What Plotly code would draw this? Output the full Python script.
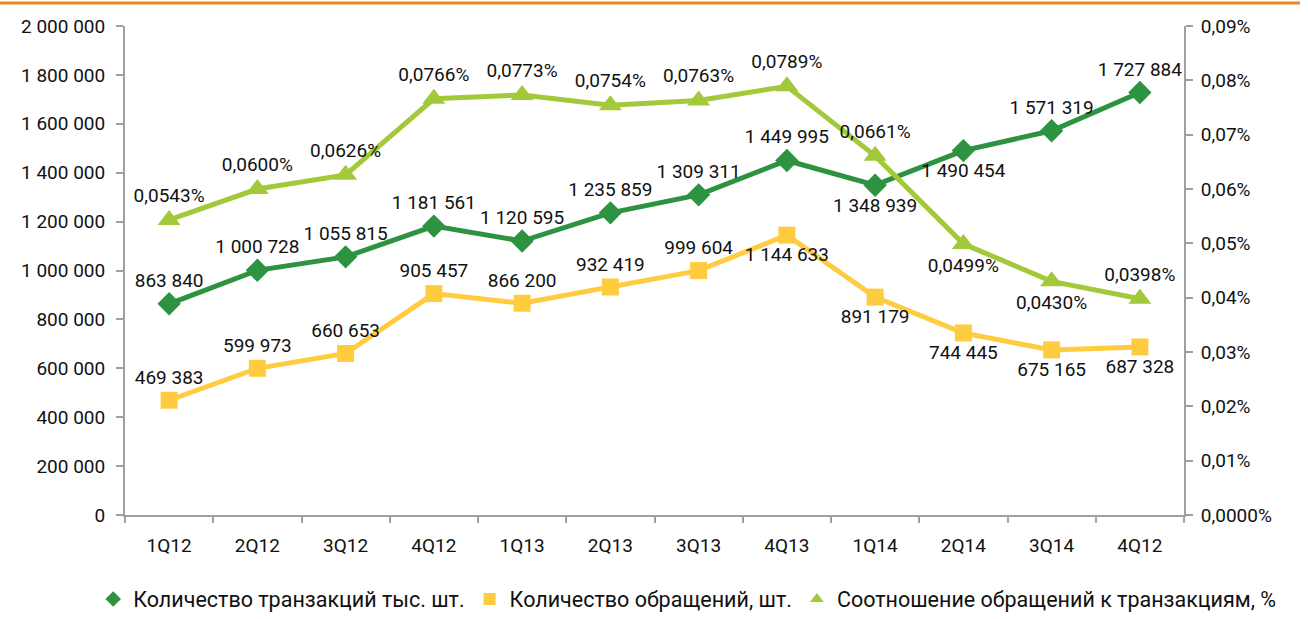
import plotly.graph_objects as go

quarters = ["1Q12", "2Q12", "3Q12", "4Q12", "1Q13", "2Q13", "3Q13", "4Q13", "1Q14", "2Q14", "3Q14", "4Q12"]
transactions = [863840, 1000728, 1055815, 1181561, 1120595, 1235859, 1309311, 1449995, 1348939, 1490454, 1571319, 1727884]
requests = [469383, 599973, 660653, 905457, 866200, 932419, 999604, 1144633, 891179, 744445, 675165, 687328]
ratio_pct = [0.0543, 0.0600, 0.0626, 0.0766, 0.0773, 0.0754, 0.0763, 0.0789, 0.0661, 0.0499, 0.0430, 0.0398]

left_ticks = [0, 200000, 400000, 600000, 800000, 1000000, 1200000, 1400000, 1600000, 1800000, 2000000]
right_ticks = [0, 0.01, 0.02, 0.03, 0.04, 0.05, 0.06, 0.07, 0.08, 0.09]
right_ticktext = ["0,0000%", "0,01%", "0,02%", "0,03%", "0,04%", "0,05%", "0,06%", "0,07%", "0,08%", "0,09%"]

names = ["Количество транзакций тыс. шт.", "Количество обращений, шт.", "Соотношение обращений к транзакциям, %"]
C_DARK = "#2E9340"
C_YEL = "#FFCC40"
C_LIGHT = "#A2C93A"
AXC = "#a0a0a0"

xpos = list(range(len(quarters)))
boundaries = [i - 0.5 for i in range(len(quarters) + 1)]

def fmt_int(v):
    return f"{v:,}".replace(",", " ")

def fmt_pct(v):
    return f"{v:.4f}%".replace(".", ",")

pos_trans = ["top center"] * 8 + ["bottom center", "bottom center", "top center", "top center"]
pos_req = ["top center"] * 7 + ["bottom center"] * 5
pos_ratio = ["top center"] * 9 + ["bottom center", "bottom center", "top center"]

FONT = "Roboto, Noto Sans, sans-serif"

fig = go.Figure()

series = [
    (transactions, names[0], C_DARK, "diamond", 18, pos_trans, [fmt_int(v) for v in transactions], "y"),
    (requests, names[1], C_YEL, "square", 17, pos_req, [fmt_int(v) for v in requests], "y"),
    (ratio_pct, names[2], C_LIGHT, "triangle-up", 20, pos_ratio, [fmt_pct(v) for v in ratio_pct], "y2"),
]

for vals, name, col, sym, size, pos, txt, yax in series:
    fig.add_trace(go.Scatter(x=xpos, y=vals, mode="lines", line=dict(color=col, width=5),
                             showlegend=False, yaxis=yax, hoverinfo="skip", cliponaxis=False))
for vals, name, col, sym, size, pos, txt, yax in series:
    fig.add_trace(go.Scatter(x=xpos, y=vals, mode="markers+text", name=name,
                             marker=dict(color=col, symbol=sym, size=size, line=dict(width=0)),
                             text=txt, textposition=pos,
                             textfont=dict(family=FONT, size=19, color="#111111"),
                             yaxis=yax, cliponaxis=False))

fig.update_layout(
    width=1308, height=619,
    margin=dict(l=125, r=124, t=26, b=104, autoexpand=False),
    paper_bgcolor="white", plot_bgcolor="white",
    font=dict(family=FONT, size=19, color="#111111"),
    xaxis=dict(range=[-0.5, len(quarters) - 0.5], tickmode="array", tickvals=xpos, ticktext=quarters,
               showgrid=False, showline=True, linecolor=AXC, linewidth=2, ticks="",
               minor=dict(tickmode="array", tickvals=boundaries, ticks="outside", ticklen=6,
                          tickcolor=AXC, tickwidth=2, showgrid=False),
               ticklabelstandoff=12,
               tickfont=dict(family=FONT, size=19), zeroline=False),
    yaxis=dict(range=[0, 2000000], tickvals=left_ticks, ticktext=[fmt_int(v) for v in left_ticks],
               showgrid=False, showline=True, linecolor=AXC, linewidth=2,
               ticks="outside", ticklen=7, tickcolor=AXC, tickwidth=2, zeroline=False,
               ticklabelstandoff=7,
               tickfont=dict(family=FONT, size=19)),
    yaxis2=dict(range=[0, 0.09], overlaying="y", side="right", tickvals=right_ticks, ticktext=right_ticktext,
                showgrid=False, showline=True, linecolor=AXC, linewidth=2,
                ticks="outside", ticklen=7, tickcolor=AXC, tickwidth=2, zeroline=False,
                ticklabelstandoff=4,
                tickfont=dict(family=FONT, size=19)),
    legend=dict(orientation="h", x=-0.03, xanchor="left", y=-0.13, yanchor="top",
                font=dict(family=FONT, size=21.5), itemsizing="constant"),
    shapes=[dict(type="line", xref="paper", yref="paper", x0=-0.118, x1=1.1095, y0=1.047, y1=1.047,
                 line=dict(color="#F58220", width=3))],
)

fig.write_html("out.html", config={"displayModeBar": False},
               post_script="document.body.style.margin='0';document.body.style.overflow='hidden';")
